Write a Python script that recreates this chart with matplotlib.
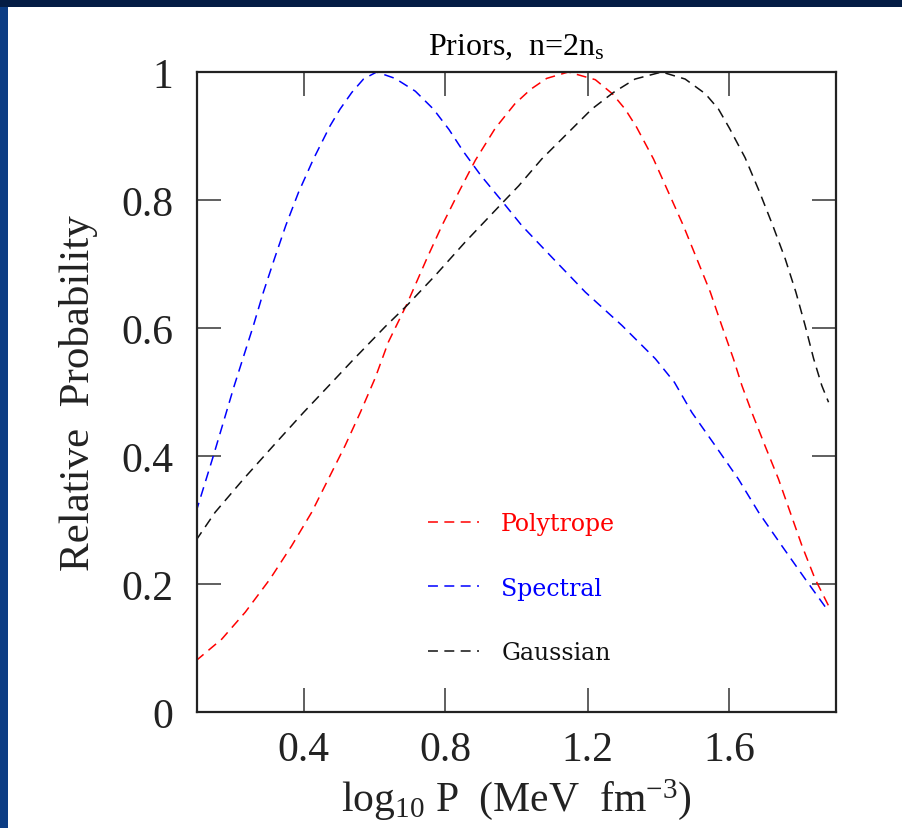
import matplotlib
matplotlib.use("Agg")
import matplotlib.pyplot as plt
from matplotlib.patches import Rectangle

plt.rcParams['mathtext.fontset'] = 'custom'
plt.rcParams['mathtext.rm'] = 'Liberation Serif'
plt.rcParams['mathtext.it'] = 'Liberation Serif:italic'

# curves (x = log10 P, y = relative probability)
poly_x = [0.097, 0.170, 0.236, 0.306, 0.367, 0.423, 0.470, 0.517, 0.560, 0.602,
          0.639, 0.691, 0.747, 0.790, 0.837, 0.884, 0.940, 0.995, 1.040, 1.085,
          1.146, 1.222, 1.270, 1.306, 1.338, 1.386, 1.428, 1.470, 1.508, 1.546,
          1.578, 1.611, 1.635, 1.663, 1.700, 1.738, 1.771, 1.804, 1.841, 1.879]
poly_y = [0.080, 0.114, 0.156, 0.208, 0.260, 0.312, 0.364, 0.416, 0.468, 0.522,
          0.578, 0.637, 0.708, 0.760, 0.812, 0.862, 0.912, 0.950, 0.973, 0.990,
          1.000, 0.988, 0.966, 0.942, 0.914, 0.864, 0.812, 0.760, 0.708, 0.656,
          0.604, 0.552, 0.510, 0.468, 0.416, 0.364, 0.312, 0.260, 0.208, 0.166]

spec_x = [0.097, 0.146, 0.205, 0.259, 0.287, 0.318, 0.350, 0.386, 0.428, 0.475,
          0.503, 0.536, 0.569, 0.606, 0.658, 0.715, 0.766, 0.810, 0.850, 0.900,
          0.961, 1.015, 1.104, 1.194, 1.297, 1.391, 1.445, 1.494, 1.560, 1.625,
          1.682, 1.747, 1.813, 1.874]
spec_y = [0.312, 0.400, 0.510, 0.604, 0.656, 0.708, 0.760, 0.812, 0.864, 0.916,
          0.942, 0.968, 0.989, 1.000, 0.990, 0.970, 0.942, 0.910, 0.876, 0.838,
          0.797, 0.760, 0.708, 0.656, 0.604, 0.552, 0.515, 0.468, 0.416, 0.364,
          0.312, 0.260, 0.208, 0.161]

gauss_x = [0.097, 0.151, 0.231, 0.315, 0.400, 0.475, 0.536, 0.630, 0.691, 0.771,
           0.855, 0.961, 1.006, 1.071, 1.165, 1.212, 1.273, 1.334, 1.409, 1.475,
           1.532, 1.569, 1.600, 1.644, 1.685, 1.722, 1.757, 1.787, 1.813, 1.837,
           1.860, 1.879]
gauss_y = [0.268, 0.312, 0.364, 0.416, 0.468, 0.512, 0.548, 0.602, 0.635, 0.682,
           0.734, 0.796, 0.822, 0.864, 0.916, 0.942, 0.968, 0.989, 1.000, 0.989,
           0.966, 0.942, 0.912, 0.866, 0.812, 0.760, 0.708, 0.656, 0.604, 0.552,
           0.510, 0.484]

x_ticks = [0.4, 0.8, 1.2, 1.6]
x_ticklabels = ['0.4', '0.8', '1.2', '1.6']
y_ticks = [0, 0.2, 0.4, 0.6, 0.8, 1.0]
y_ticklabels = ['0', '0.2', '0.4', '0.6', '0.8', '1']

fig = plt.figure(figsize=(9.02, 8.29), dpi=100, facecolor='#0c3d84')
# slide background: white panel with a dark band on top
fig.patches.append(Rectangle((0, 1 - 8 / 829), 1, 8 / 829, transform=fig.transFigure,
                             facecolor='#041d45', edgecolor='none', zorder=-2))
fig.patches.append(Rectangle((8 / 902, 0), 1, 1 - 8 / 829, transform=fig.transFigure,
                             facecolor='white', edgecolor='none', zorder=-2))

ax = fig.add_axes([197 / 902, 116 / 829, 639 / 902, 640 / 829])
ax.set_zorder(2)
ax.set_facecolor('none')

dash = (6.5, 4.2)
ax.plot(poly_x, poly_y, color='#ff0000', lw=1.1, dashes=dash, label='Polytrope')
ax.plot(spec_x, spec_y, color='#0000ff', lw=1.1, dashes=dash, label='Spectral')
ax.plot(gauss_x, gauss_y, color='#111111', lw=1.1, dashes=dash, label='Gaussian')

ax.set_xlim(0.1, 1.9)
ax.set_ylim(0, 1)
ax.set_xticks(x_ticks)
ax.set_xticklabels(x_ticklabels)
ax.set_yticks(y_ticks)
ax.set_yticklabels(y_ticklabels)

ax.tick_params(direction='in', length=17, width=1.2, color='#444444',
               top=True, right=True, labelsize=30, pad=13)
ax.tick_params(axis='y', pad=17)
for lab in ax.get_xticklabels() + ax.get_yticklabels():
    lab.set_family('Liberation Serif')
    lab.set_color('#222222')
for s in ax.spines.values():
    s.set_linewidth(1.6)
    s.set_color('#222222')

ax.set_xlabel('log$_{10}$ P  (MeV  fm$^{-3}$)', fontsize=30,
              family='Liberation Serif', color='#222222')
ax.xaxis.set_label_coords(0.5, -0.1)
ax.set_ylabel('Relative  Probability', fontsize=31,
              family='Liberation Serif', color='#222222')
ax.yaxis.set_label_coords(-0.155, 0.5)
ax.set_title('Priors,  n=2n$_\\mathrm{s}$', fontsize=23,
             family='Liberation Serif', pad=13)

ax.legend(loc='upper left', bbox_to_anchor=(0.3615, 0.312), frameon=False,
          borderpad=0, borderaxespad=0, handlelength=2.15, handletextpad=0.95,
          labelspacing=1.75, labelcolor='linecolor',
          prop={'family': 'DejaVu Serif', 'size': 17})

fig.savefig('out.png', dpi=100, facecolor=fig.get_facecolor())
